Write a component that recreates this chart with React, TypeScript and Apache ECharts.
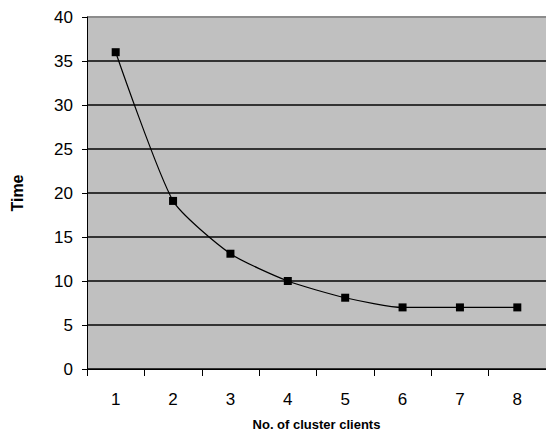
import React, { useEffect, useRef } from "react";
import * as echarts from "echarts";

const categories = ["1", "2", "3", "4", "5", "6", "7", "8"];
const timeValues = [36, 19.1, 13.1, 10, 8.1, 7, 7, 7];
const yMin = 0;
const yMax = 40;
const yInterval = 5;

export default function App() {
  const ref = useRef<HTMLDivElement>(null);
  useEffect(() => {
    if (!ref.current) return;
    const chart = echarts.init(ref.current, undefined, { renderer: "svg" });
    const font = "'Liberation Sans', Arial, sans-serif";
    const splitColors = [
      "#333333", "#333333", "#333333", "#333333", "#333333",
      "#333333", "#333333", "#333333", "#8c8c8c",
    ];
    chart.setOption({
      animation: false,
      backgroundColor: "#ffffff",
      grid: {
        left: 87,
        top: 17,
        width: 462,
        height: 354,
        show: true,
        backgroundColor: "#C0C0C0",
        borderWidth: 0,
      },
      xAxis: {
        type: "category",
        data: categories,
        boundaryGap: true,
        name: "No. of cluster clients",
        nameLocation: "middle",
        nameGap: 49,
        nameTextStyle: { fontFamily: font, fontWeight: "bold", fontSize: 13, color: "#000" },
        axisLine: { lineStyle: { color: "#000", width: 1 } },
        axisTick: { show: true, length: 7, alignWithLabel: false, lineStyle: { color: "#000" } },
        axisLabel: { fontFamily: font, fontSize: 17, color: "#000", margin: 22 },
        splitLine: { show: false },
      },
      yAxis: {
        type: "value",
        min: yMin,
        max: yMax,
        interval: yInterval,
        name: "Time",
        nameLocation: "middle",
        nameGap: 62,
        nameRotate: 90,
        nameTextStyle: { fontFamily: font, fontWeight: "bold", fontSize: 16, color: "#000" },
        axisLine: { show: true, lineStyle: { color: "#000", width: 1 } },
        axisTick: { show: true, length: 5, inside: false, lineStyle: { color: "#000" } },
        axisLabel: { fontFamily: font, fontSize: 17, color: "#000", margin: 14 },
        splitLine: { show: true, lineStyle: { color: splitColors, width: 2 } },
      },
      series: [
        {
          type: "line",
          data: timeValues,
          smooth: 0.2,
          symbol: "rect",
          symbolSize: 8,
          lineStyle: { color: "#000", width: 1.2 },
          itemStyle: { color: "#000" },
        },
      ],
    });
    return () => chart.dispose();
  }, []);
  return (
    <div
      ref={ref}
      style={{ position: "fixed", left: 0, top: 0, width: 546, height: 436 }}
    />
  );
}
